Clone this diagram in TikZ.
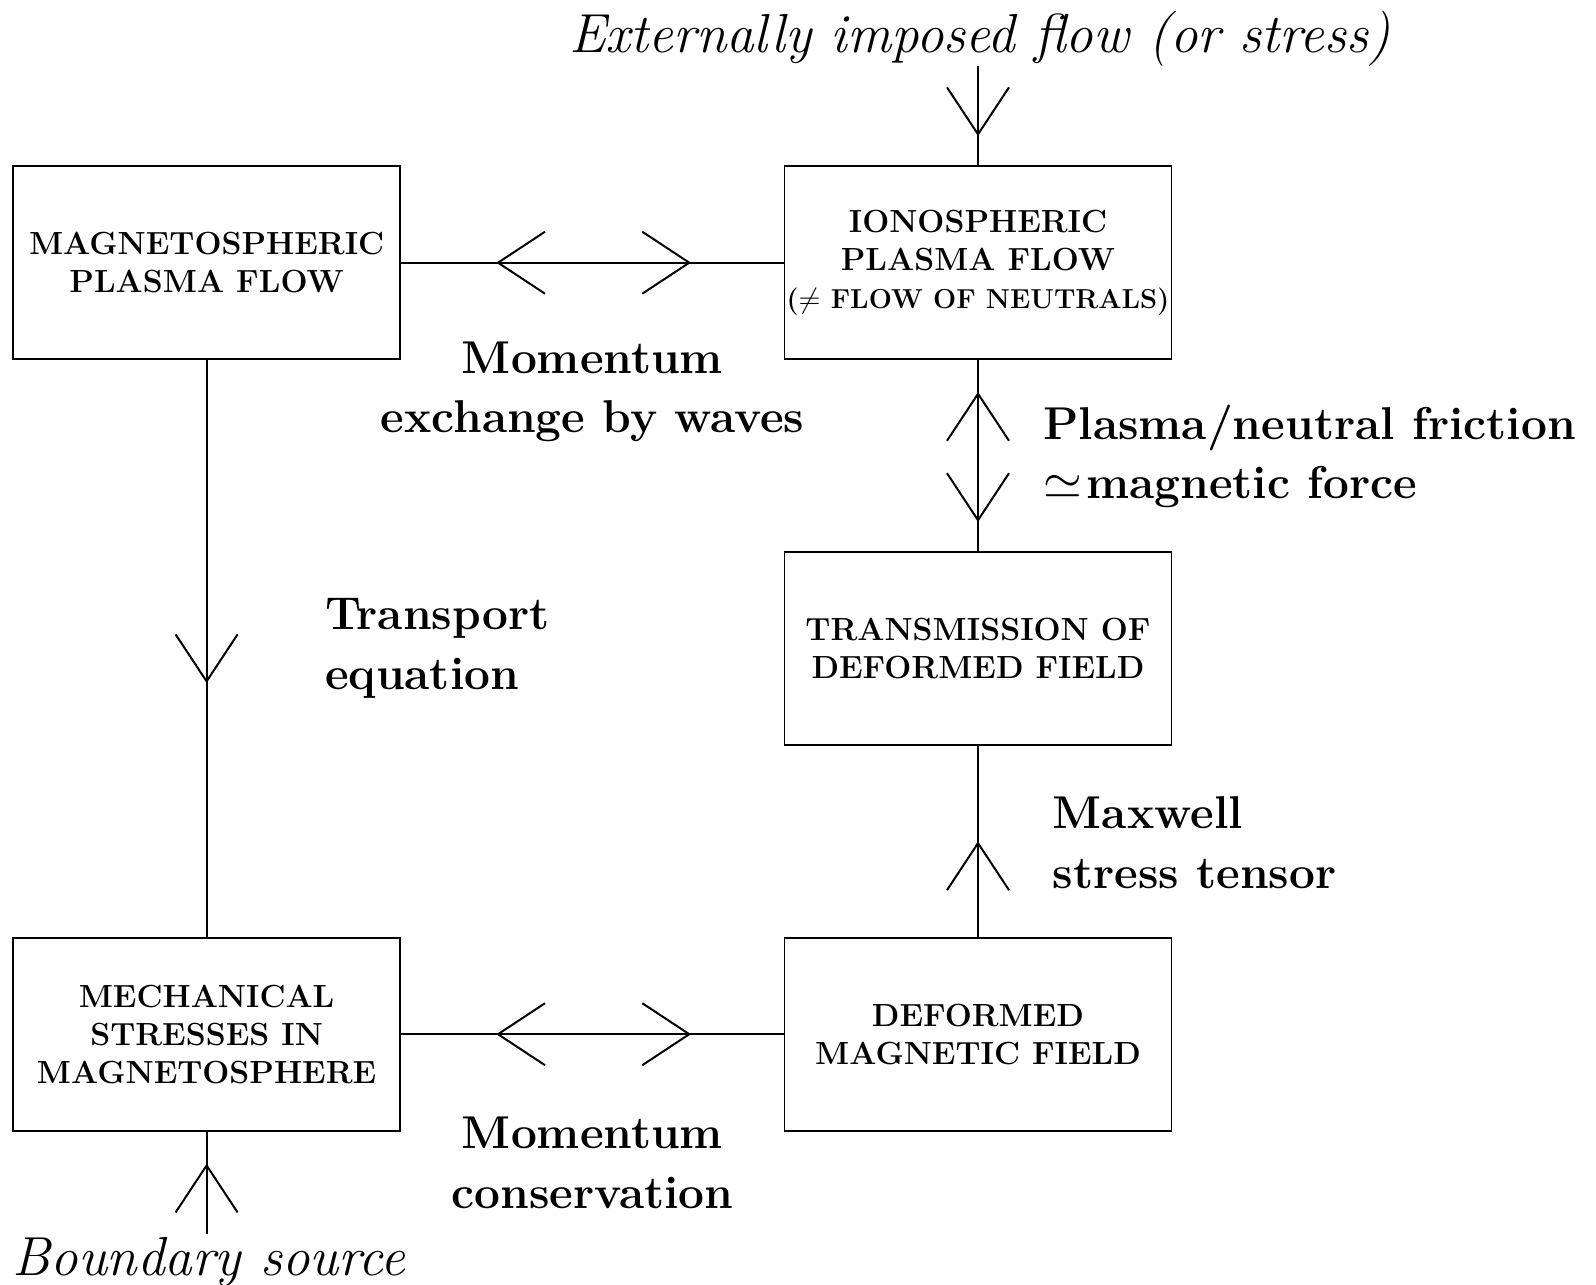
\documentclass[tikz,border=0pt]{standalone}
\usepackage{fontspec}
\usetikzlibrary{arrows.meta,decorations.markings}

\newcommand{\blkfont}{\fontsize{16}{19}\selectfont\bfseries\addfontfeature{LetterSpace=10}}
\newcommand{\smallblkfont}{\fontsize{13.7}{19}\selectfont\bfseries\addfontfeature{LetterSpace=23}}
\newcommand{\lblfont}{\fontsize{23}{29.75}\selectfont\bfseries}
\newcommand{\srcfont}{\fontsize{27.5}{30}\selectfont\itshape}

\tikzset{
  blk/.style={draw, line width=0.8pt, minimum width=193.5pt, minimum height=96.5pt, inner sep=0pt, outer sep=0pt, align=center, font=\blkfont},
  lbl/.style={inner sep=0pt, font=\lblfont},
  src/.style={inner sep=0pt, font=\srcfont},
  link/.style={line width=1pt},
  barb/.tip={Straight Barb[length=23.5pt,width=31pt]},
  tipat/.style={postaction={decorate, decoration={markings, mark=at position #1 with {\arrow{barb}}}}},
  tipback/.style={postaction={decorate, decoration={markings, mark=at position #1 with {\arrowreversed{barb}}}}},
}

\begin{document}
\begin{tikzpicture}[x=0.5pt, y=-0.5pt]
  \useasboundingbox (0,0) rectangle (1596,1285);
  % boxes
  \node[blk] (magflow) at (206.6,262.7) {MAGNETOSPHERIC\\PLASMA FLOW};
  \node[blk] (ionflow) at (978,262.7) {IONOSPHERIC\\PLASMA FLOW\\{\smallblkfont($\neq$ FLOW OF NEUTRALS)}};
  \node[blk] (trans) at (978,648.4) {TRANSMISSION OF\\DEFORMED FIELD};
  \node[blk] (mech) at (206.6,1034.2) {MECHANICAL\\STRESSES IN\\MAGNETOSPHERE};
  \node[blk] (deform) at (978,1034.2) {DEFORMED\\MAGNETIC FIELD};
  % sources
  \node[src] (exttxt) at (980,39) {Externally imposed flow (or stress)};
  \node[src] (bndtxt) at (209,1262) {Boundary source};
  \coordinate (ext) at (978,66);
  \coordinate (bnd) at (206.6,1233.5);
  % labels
  \node[lbl, align=center] (mex) at (592.5,392) {Momentum\\exchange by waves};
  \node[lbl, align=left, anchor=west] (fric) at (1043,456.5) {Plasma/neutral friction\\$\simeq$\kern2pt magnetic force};
  \node[lbl, align=left, anchor=west] (transp) at (324.7,648.5) {Transport\\equation};
  \node[lbl, align=left, anchor=west] (maxw) at (1052.5,842.5) {Maxwell\\stress tensor};
  \node[lbl, align=center] (mcons) at (592.5,1163) {Momentum\\conservation};
  % connectors
  \draw[link, tipback=0.25, tipat=0.757] (magflow) -- (ionflow);
  \draw[link, tipback=0.17, tipat=0.845] (ionflow) -- (trans);
  \draw[link, tipat=0.56] (magflow) -- (mech);
  \draw[link, tipat=0.5] (deform) -- (trans);
  \draw[link, tipback=0.25, tipat=0.757] (mech) -- (deform);
  \draw[link, tipat=0.70] (ext) -- (ionflow);
  \draw[link, tipat=0.68] (bnd) -- (mech);
\end{tikzpicture}
\end{document}
